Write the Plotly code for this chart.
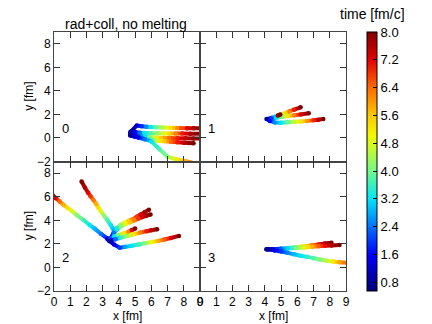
import plotly.graph_objects as go
from plotly.subplots import make_subplots
from plotly.colors import sample_colorscale

# ---- trajectories: x [fm], y [fm], t [fm/c] ----
# panel 0
p0_x = [[4.75, 5.1, 5.4, 5.7, 5.95, 6.3, 6.7, 7.15, 7.6, 8.2, 8.6, 9.1],
        [4.7, 5.0, 5.3, 5.55, 6.0, 6.4, 6.8, 7.1, 7.5, 7.9, 8.4, 9.1],
        [4.7, 5.0, 5.3, 5.6, 5.9, 6.2, 6.6, 7.1, 7.6, 8.1, 8.6, 9.1],
        [4.7, 5.0, 5.3, 5.6, 6.0, 6.4, 6.8, 7.2, 7.6, 8.0, 8.3, 8.6],
        [4.7, 5.2, 5.6, 6.0, 6.5, 7.0, 7.6, 8.1, 8.5]]
p0_y = [[0.55, 1.05, 1.0, 0.95, 0.92, 0.9, 0.88, 0.86, 0.85, 0.83, 0.82, 0.82],
        [0.5, 0.5, 0.45, 0.42, 0.4, 0.4, 0.38, 0.38, 0.37, 0.37, 0.36, 0.35],
        [0.35, 0.22, 0.15, 0.1, 0.06, 0.03, 0.0, 0.0, -0.02, -0.03, -0.05, -0.05],
        [0.25, 0.1, 0.0, -0.1, -0.18, -0.23, -0.28, -0.32, -0.36, -0.4, -0.43, -0.45],
        [0.2, 0.05, -0.1, -0.3, -0.95, -1.6, -1.84, -1.96, -2.1]]
p0_t = [[0.6, 1.2, 1.9, 2.6, 3.2, 3.9, 4.5, 5.2, 6.1, 7.2, 7.6, 8.0],
        [0.8, 1.6, 2.4, 3.2, 3.8, 4.3, 4.9, 5.4, 6.2, 7.0, 7.6, 8.0],
        [0.8, 1.6, 2.4, 3.2, 4.0, 4.8, 5.6, 6.4, 7.0, 7.5, 7.8, 8.0],
        [0.8, 1.6, 2.4, 3.0, 3.8, 4.8, 5.6, 6.4, 7.0, 7.5, 7.8, 8.0],
        [0.8, 1.6, 2.4, 3.2, 3.7, 4.2, 5.2, 5.8, 6.3]]

# panel 1
p1_x = [[4.2, 4.4, 4.6, 5.0, 5.3, 5.5, 5.8, 6.2],
        [4.2, 4.4, 4.7, 5.1, 5.4, 5.8, 6.2, 6.7],
        [4.1, 4.3, 4.6, 5.0, 5.4, 5.8, 6.2, 6.6, 7.0, 7.3, 7.6],
        [4.8, 4.95]]
p1_y = [[1.6, 1.7, 1.8, 2.0, 2.15, 2.25, 2.4, 2.6],
        [1.6, 1.65, 1.72, 1.8, 1.86, 1.93, 2.0, 2.1],
        [1.62, 1.45, 1.32, 1.3, 1.33, 1.37, 1.4, 1.45, 1.5, 1.55, 1.62],
        [1.9, 2.0]]
p1_t = [[1.0, 2.0, 3.0, 4.4, 5.4, 6.2, 7.0, 8.0],
        [1.0, 2.0, 3.2, 4.3, 5.2, 6.2, 7.2, 8.0],
        [0.8, 1.6, 2.6, 3.2, 3.9, 4.6, 5.2, 6.0, 6.9, 7.5, 8.0],
        [7.8, 8.0]]

# panel 2
p2_x = [[3.5, 3.3, 2.9, 2.5, 2.2, 1.8, 1.4, 1.1, 0.85, 0.6, 0.35, 0.1, -0.1],
        [3.6, 3.7, 3.5, 3.3, 3.09, 2.9, 2.74, 2.6, 2.43, 2.25, 2.1, 1.9, 1.7],
        [3.5, 3.7, 3.85, 4.1, 4.35, 4.6, 4.85, 5.1, 5.35, 5.6, 5.85],
        [3.5, 3.7, 3.9, 4.15, 4.4, 4.7, 4.95, 5.2, 5.45, 5.7, 5.95],
        [3.3, 3.5, 3.7, 3.98, 4.29, 4.6, 4.8, 5.0],
        [3.5, 3.8, 4.1, 4.5, 4.9, 5.3, 5.7, 6.0, 6.35],
        [3.4, 3.7, 4.05, 4.4, 4.8, 5.2, 5.6, 6.0, 6.4, 6.8, 7.2, 7.7]]
p2_y = [[2.3, 2.45, 2.85, 3.3, 3.6, 4.05, 4.45, 4.8, 5.05, 5.3, 5.6, 5.9, 6.15],
        [2.6, 3.1, 3.6, 4.0, 4.4, 4.75, 5.08, 5.4, 5.73, 6.05, 6.35, 6.8, 7.3],
        [2.5, 3.0, 3.35, 3.6, 3.8, 3.95, 4.1, 4.3, 4.5, 4.7, 4.9],
        [2.45, 2.9, 3.25, 3.5, 3.7, 3.85, 4.0, 4.15, 4.28, 4.4, 4.5],
        [2.4, 2.5, 2.62, 2.76, 2.9, 3.04, 3.18, 3.3],
        [2.3, 2.4, 2.52, 2.67, 2.82, 2.96, 3.08, 3.16, 3.25],
        [2.25, 1.95, 1.68, 1.75, 1.85, 1.95, 2.05, 2.15, 2.25, 2.38, 2.5, 2.68]]
p2_t = [[1.0, 1.6, 2.4, 2.9, 3.2, 3.7, 4.2, 4.8, 5.3, 5.8, 6.4, 7.2, 8.0],
        [1.6, 2.8, 3.2, 3.7, 4.2, 4.8, 5.3, 5.8, 6.3, 6.8, 7.2, 7.6, 8.0],
        [1.2, 2.4, 3.4, 4.2, 5.0, 5.6, 6.2, 6.8, 7.3, 7.7, 8.0],
        [1.2, 2.4, 3.4, 4.2, 4.9, 5.6, 6.2, 6.8, 7.3, 7.7, 8.0],
        [1.2, 2.2, 3.2, 4.2, 5.2, 6.2, 7.2, 8.0],
        [1.2, 2.4, 3.5, 4.3, 5.2, 6.2, 7.0, 7.5, 8.0],
        [0.8, 1.4, 2.0, 2.8, 3.2, 3.6, 4.1, 5.0, 5.8, 6.5, 7.2, 8.0]]

# panel 3
p3_x = [[4.1, 4.5, 5.0, 5.4, 5.9, 6.4, 6.9, 7.3, 7.7, 8.1],
        [4.1, 4.5, 5.0, 5.4, 5.9, 6.4, 6.9, 7.3, 7.7, 8.1, 8.6],
        [4.2, 4.6, 5.0, 5.4, 5.8, 6.2, 6.6, 7.0, 7.4, 7.8, 8.2, 8.6, 9.1]]
p3_y = [[1.55, 1.55, 1.6, 1.65, 1.72, 1.8, 1.88, 1.95, 2.03, 2.1],
        [1.55, 1.53, 1.55, 1.6, 1.65, 1.7, 1.75, 1.8, 1.84, 1.87, 1.9],
        [1.55, 1.45, 1.35, 1.24, 1.12, 1.0, 0.9, 0.79, 0.68, 0.58, 0.5, 0.44, 0.4]]
p3_t = [[0.8, 1.5, 2.3, 3.2, 4.1, 5.2, 6.2, 7.0, 7.6, 8.0],
        [0.8, 1.5, 2.3, 3.1, 4.0, 4.9, 5.8, 6.5, 7.1, 7.6, 8.0],
        [0.8, 1.4, 2.0, 2.5, 2.9, 3.2, 3.5, 3.8, 4.1, 4.5, 5.2, 5.9, 6.6]]

panel_names = ["0", "1", "2", "3"]
cb_ticks = [0.8, 1.6, 2.4, 3.2, 4.0, 4.8, 5.6, 6.4, 7.2, 8.0]
t_min, t_max = 0.55, 8.0

jet = [[0.0, "rgb(0,0,120)"], [0.14, "rgb(0,0,255)"], [0.25, "rgb(0,115,255)"],
       [0.356, "rgb(0,230,250)"], [0.463, "rgb(115,250,135)"], [0.597, "rgb(240,250,0)"],
       [0.678, "rgb(255,200,0)"], [0.785, "rgb(255,105,0)"], [0.893, "rgb(228,0,0)"],
       [1.0, "rgb(128,0,0)"]]

panels = [(p0_x, p0_y, p0_t, 1, 1), (p1_x, p1_y, p1_t, 1, 2),
          (p2_x, p2_y, p2_t, 2, 1), (p3_x, p3_y, p3_t, 2, 2)]

fig = make_subplots(rows=2, cols=2, horizontal_spacing=0, vertical_spacing=0)

for xs, ys, ts, r, c in panels:
    for x, y, t in zip(xs, ys, ts):
        for i in range(len(x) - 1):
            frac = ((t[i] + t[i + 1]) / 2 - t_min) / (t_max - t_min)
            col = sample_colorscale(jet, [frac])[0]
            fig.add_trace(go.Scatter(x=x[i:i + 2], y=y[i:i + 2], mode="lines",
                                     line=dict(color=col, width=4),
                                     hoverinfo="skip", showlegend=False), row=r, col=c)
        fig.add_trace(go.Scatter(x=x, y=y, mode="markers",
                                 marker=dict(color=t, coloraxis="coloraxis", size=4.5,
                                             line=dict(width=0)),
                                 showlegend=False), row=r, col=c)

axis_style = dict(range=[0, 9], ticks="inside", ticklen=6, tickcolor="#333",
                  showline=True, linecolor="#444", linewidth=1, mirror="ticks",
                  showgrid=False, zeroline=False, tickfont=dict(size=12),
                  automargin=False)
fig.update_xaxes(dtick=1, tick0=0, **axis_style)
fig.update_yaxes(axis_style, range=[-2, 9], dtick=2, tick0=-2)
for r in (1, 2):
    fig.update_yaxes(showticklabels=False, row=r, col=2)
for c in (1, 2):
    fig.update_xaxes(showticklabels=False, row=1, col=c)

anns = []
for name, ax in zip(panel_names, ["", "2", "3", "4"]):
    anns.append(dict(text=name, x=0.68, y=0.83, xref="x" + ax, yref="y" + ax,
                     showarrow=False, font=dict(size=13)))
anns += [
    dict(text="rad+coll, no melting", x=0.2466, y=1.031, xref="paper", yref="paper",
         showarrow=False, font=dict(size=14)),
    dict(text="time [fm/c]", x=1.092, y=1.07, xref="paper", yref="paper",
         showarrow=False, font=dict(size=14)),
    dict(text="x [fm]", x=0.5, y=-0.097, xref="x3 domain", yref="paper",
         showarrow=False, font=dict(size=12)),
    dict(text="x [fm]", x=0.5, y=-0.097, xref="x4 domain", yref="paper",
         showarrow=False, font=dict(size=12)),
    dict(text="y [fm]", x=-0.0856, y=0.5, xref="paper", yref="y domain",
         showarrow=False, textangle=-90, font=dict(size=12)),
    dict(text="y [fm]", x=-0.0856, y=0.5, xref="paper", yref="y3 domain",
         showarrow=False, textangle=-90, font=dict(size=12)),
]
for a in anns:
    a["xanchor"] = "center"
    a["yanchor"] = "middle"

# the page body has an 8px margin, so the figure is drawn 8px smaller
fig.update_layout(
    width=424, height=316,
    margin=dict(l=46, r=86, t=24, b=33, autoexpand=False),
    paper_bgcolor="white", plot_bgcolor="white",
    font=dict(family="Liberation Sans, Arial, sans-serif", color="black"),
    annotations=anns,
    coloraxis=dict(
        colorscale=jet, cmin=t_min, cmax=t_max,
        colorbar=dict(x=1.073, xanchor="left", y=0.5, yanchor="middle",
                      len=1.0, lenmode="fraction", thickness=10,
                      outlinewidth=1, outlinecolor="black",
                      tickvals=cb_ticks, ticktext=[f"{v:.1f}" for v in cb_ticks],
                      ticks="inside", ticklen=4, tickcolor="black",
                      tickfont=dict(size=13), xpad=0, ypad=0),
    ),
)

fig.write_html("out.html")
